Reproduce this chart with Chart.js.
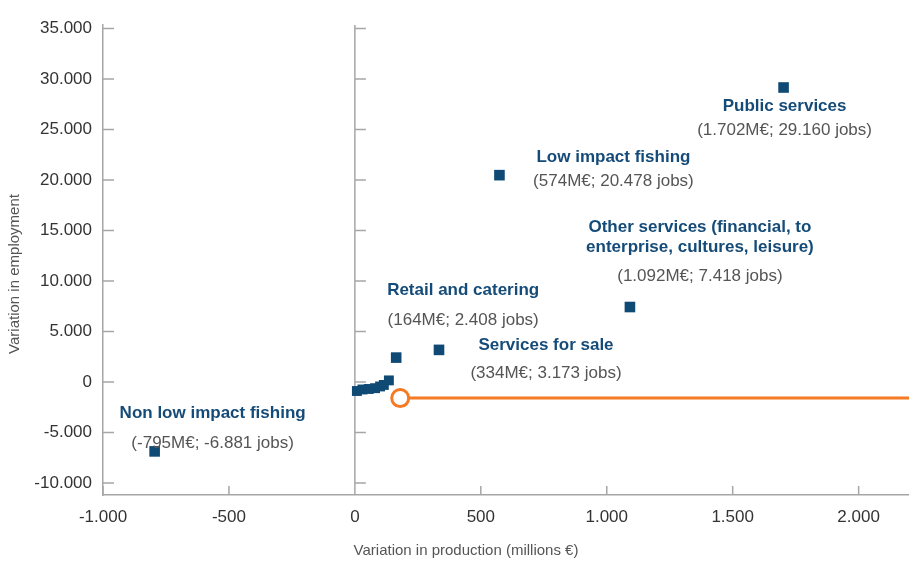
<!DOCTYPE html>
<html lang="en">
<head>
<meta charset="UTF-8">
<title>Variation in production and employment</title>
<style>
  html, body { margin: 0; padding: 0; background: #fff; }
  #wrap { width: 909px; height: 567px; }
</style>
</head>
<body>
<div id="wrap"><canvas id="chart"></canvas></div>
<script src="https://cdn.jsdelivr.net/npm/chart.js"></script>
<script>
// labelled sectors: production (M€) and jobs
const sectorNames = [
  ['Public services'],
  ['Low impact fishing'],
  ['Other services (financial, to', 'enterprise, cultures, leisure)'],
  ['Retail and catering'],
  ['Services for sale'],
  ['Non low impact fishing']
];
const sectorProduction = [1702, 574, 1092, 164, 334, -795];
const sectorJobs = [29160, 20478, 7418, 2408, 3173, -6881];

// small unlabelled sectors near the origin
const otherProduction = [8, 30, 55, 80, 100, 115, 135];
const otherJobs = [-900, -750, -700, -620, -450, -300, 150];

// orange reference line
const refProduction = [180, 2200];
const refJobs = [-1600, -1600];

const xTicks = [-1000, -500, 0, 500, 1000, 1500, 2000];
const yTicks = [-10000, -5000, 0, 5000, 10000, 15000, 20000, 25000, 30000, 35000];

const xTitle = 'Variation in production (millions €)';
const yTitle = 'Variation in employment';

// where each label sits relative to its marker (px)
const labelLayout = [
  { dx: 1, main: [19], sub: 43 },
  { dx: 114, main: [-18], sub: 6 },
  { dx: 70, main: [-80, -60], sub: -31 },
  { dx: 67, main: [-67], sub: -37 },
  { dx: 107, main: [-5], sub: 23 },
  { dx: 58, main: [-38], sub: -8 }
];

const FONT = '"Liberation Sans", Arial, sans-serif';
const NAVY = '#0f4a75';
const AXIS = '#a6a6a6';
const ORANGE = '#f47a24';

function fmt(v) {
  const s = Math.abs(v).toString().replace(/\B(?=(\d{3})+(?!\d))/g, '.');
  return (v < 0 ? '-' : '') + s;
}

const points = (xs, ys) => xs.map((x, i) => ({ x: x, y: ys[i] }));

const axisDecor = {
  id: 'axisDecor',
  beforeDatasetsDraw(chart) {
    const { ctx, chartArea: a, scales: { x, y } } = chart;
    const x0 = x.getPixelForValue(0);
    ctx.save();
    ctx.strokeStyle = AXIS;
    ctx.lineWidth = 1.5;
    ctx.beginPath();
    ctx.moveTo(x0, a.top);
    ctx.lineTo(x0, a.bottom);
    yTicks.forEach(v => {
      const py = y.getPixelForValue(v);
      ctx.moveTo(a.left, py); ctx.lineTo(a.left + 11, py);
      ctx.moveTo(x0, py); ctx.lineTo(x0 + 11, py);
    });
    xTicks.forEach(v => {
      const px = x.getPixelForValue(v);
      ctx.moveTo(px, a.bottom); ctx.lineTo(px, a.bottom - 9);
    });
    ctx.stroke();

    // axis titles
    ctx.fillStyle = '#555';
    ctx.font = '15px ' + FONT;
    ctx.textAlign = 'center';
    ctx.textBaseline = 'middle';
    ctx.fillText(xTitle, 466, 551);
    ctx.translate(15, 274);
    ctx.rotate(-Math.PI / 2);
    ctx.fillText(yTitle, 0, 0);
    ctx.restore();
  },
  afterDatasetsDraw(chart) {
    const { ctx, scales: { x, y } } = chart;
    ctx.save();
    ctx.textAlign = 'center';
    ctx.textBaseline = 'middle';
    sectorNames.forEach((lines, i) => {
      const lay = labelLayout[i];
      const px = x.getPixelForValue(sectorProduction[i]) + lay.dx;
      const py = y.getPixelForValue(sectorJobs[i]);
      ctx.fillStyle = '#154b78';
      ctx.font = 'bold 17px ' + FONT;
      lines.forEach((t, k) => ctx.fillText(t, px, py + lay.main[k]));
      ctx.fillStyle = '#555';
      ctx.font = '17px ' + FONT;
      ctx.fillText('(' + fmt(sectorProduction[i]) + 'M€; ' + fmt(sectorJobs[i]) + ' jobs)', px, py + lay.sub);
    });
    ctx.restore();
  }
};

new Chart(document.getElementById('chart'), {
  type: 'scatter',
  data: {
    datasets: [
      {
        label: 'Reference',
        data: points(refProduction, refJobs),
        showLine: true,
        borderColor: ORANGE,
        borderWidth: 3,
        pointRadius: [8.5, 0],
        pointBackgroundColor: '#fff',
        pointBorderColor: ORANGE,
        pointBorderWidth: 3,
        order: 2
      },
      {
        label: 'Other sectors',
        data: points(otherProduction, otherJobs),
        pointStyle: 'rect',
        pointRadius: 7,
        backgroundColor: NAVY,
        borderColor: NAVY,
        borderWidth: 0,
        order: 1
      },
      {
        label: 'Sectors',
        data: points(sectorProduction, sectorJobs),
        pointStyle: 'rect',
        pointRadius: 7.5,
        backgroundColor: NAVY,
        borderColor: NAVY,
        borderWidth: 0,
        order: 0
      }
    ]
  },
  options: {
    responsive: true,
    maintainAspectRatio: false,
    animation: false,
    layout: { autoPadding: false, padding: { top: 25, right: 0, left: 0, bottom: 0 } },
    plugins: { legend: { display: false }, tooltip: { enabled: false } },
    scales: {
      x: {
        type: 'linear',
        min: -1000,
        max: 2200,
        afterBuildTicks: s => { s.ticks = xTicks.map(v => ({ value: v })); },
        afterFit: s => { s.height = 72; },
        grid: { display: false, drawTicks: false },
        border: { display: true, color: AXIS, width: 1.5 },
        ticks: {
          callback: v => fmt(v),
          font: { family: FONT, size: 17 },
          color: '#333',
          padding: 12,
          maxRotation: 0,
          autoSkip: false
        }
      },
      y: {
        type: 'linear',
        min: -11200,
        max: 35350,
        afterBuildTicks: s => { s.ticks = yTicks.map(v => ({ value: v })); },
        afterFit: s => { s.width = 103; },
        grid: { display: false, drawTicks: false },
        border: { display: true, color: AXIS, width: 1.5 },
        ticks: {
          callback: v => fmt(v),
          font: { family: FONT, size: 17 },
          color: '#333',
          padding: 11,
          autoSkip: false
        }
      }
    }
  },
  plugins: [axisDecor]
});
</script>
</body>
</html>
